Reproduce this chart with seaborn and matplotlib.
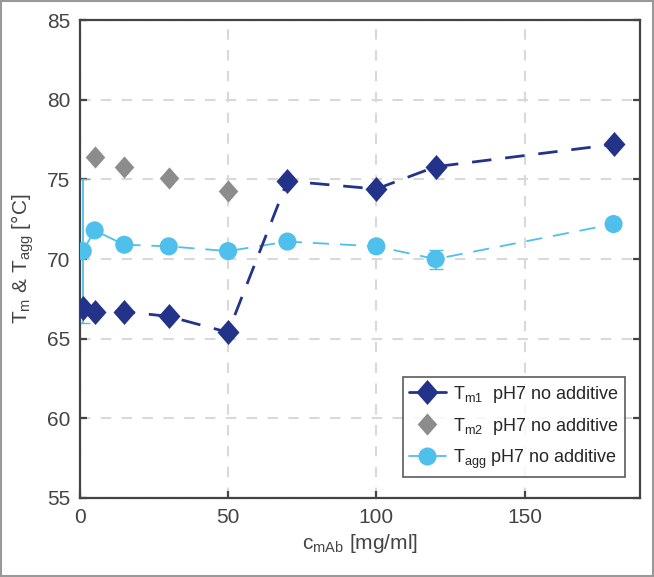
import matplotlib
matplotlib.use("Agg")
import matplotlib.pyplot as plt
from matplotlib.path import Path
from matplotlib.lines import Line2D
import seaborn as sns
import pandas as pd

# concentrations [mg/ml]
conc = [1, 5, 15, 30, 50, 70, 100, 120, 180]
tm1 = [66.9, 66.7, 66.7, 66.4, 65.4, 74.9, 74.4, 75.8, 77.2]

conc_tm2 = [5, 15, 30, 50]
tm2 = [76.4, 75.8, 75.1, 74.3]

tagg = [70.5, 71.8, 70.9, 70.8, 70.5, 71.1, 70.8, 70.0, 72.2]
tagg_err = [4.5, 0, 0, 0, 0, 0, 0, 0.6, 0]

navy = "#24338a"
grey = "#8c8c8c"
sky = "#4fc0ec"

# slightly tall diamond, like the matlab one
diamond = Path([(0, 1), (0.88, 0), (0, -1), (-0.88, 0), (0, 1)],
               [Path.MOVETO, Path.LINETO, Path.LINETO, Path.LINETO,
                Path.CLOSEPOLY])

sns.set_style("white")
plt.rcParams["font.family"] = ["Liberation Sans", "DejaVu Sans"]
plt.rcParams["mathtext.default"] = "regular"

df = pd.DataFrame({"conc": conc, "tm1": tm1, "tagg": tagg})

fig = plt.figure(figsize=(6.54, 5.77), dpi=100)
ax = fig.add_axes([0.122, 0.137, 0.857, 0.828])

sns.lineplot(data=df, x="conc", y="tm1", ax=ax, color=navy, lw=2,
             marker=diamond, markersize=18, markeredgewidth=0, zorder=3)
ax.lines[-1].set_dashes([7, 5])

sns.lineplot(x=conc_tm2, y=tm2, ax=ax, color=grey, lw=0, marker=diamond,
             markersize=16, markeredgewidth=0, zorder=3)

ax.errorbar(conc, tagg, yerr=tagg_err, color=sky, lw=1.3, capsize=5,
            fmt="none", zorder=2)
ax.plot(conc[:3], tagg[:3], color=sky, lw=1.3, zorder=2)
sns.lineplot(data=df.iloc[2:], x="conc", y="tagg", ax=ax, color=sky, lw=1.3,
             zorder=2)
ax.lines[-1].set_dashes([9, 6])
sns.scatterplot(data=df, x="conc", y="tagg", ax=ax, color=sky, s=170,
                edgecolor="none", zorder=3)

ax.set_xlim(0, 189)
ax.set_ylim(55, 85)
ax.set_xticks([0, 50, 100, 150])
ax.set_yticks(range(55, 90, 5))
ax.grid(True, color="#d9d9d9", lw=1.5, ls=(0, (5, 5)))
ax.set_axisbelow(True)

for s in ax.spines.values():
    s.set_color("#444444")
    s.set_linewidth(1.6)
ax.tick_params(direction="in", length=5, width=1.6, color="#444444",
               labelsize=15, labelcolor="#444444", right=True, left=True,
               bottom=True, pad=7)

ax.set_xlabel("c$_{mAb}$ [mg/ml]", fontsize=15, color="#444444", labelpad=4)
ax.set_ylabel("T$_m$ & T$_{agg}$ [°C]", fontsize=15, color="#444444",
              labelpad=8)

handles = [
    Line2D([], [], color=navy, lw=2, marker=diamond, ms=18, mew=0),
    Line2D([], [], color=grey, lw=0, marker=diamond, ms=16, mew=0),
    Line2D([], [], color=sky, lw=1.3, marker="o", ms=13, mew=0),
]
labels = ["T$_{m1}$  pH7 no additive", "T$_{m2}$  pH7 no additive",
          "T$_{agg}$ pH7 no additive"]
leg = ax.legend(handles, labels, loc="lower right", fontsize=13,
                frameon=True, fancybox=False, edgecolor="#333333",
                handlelength=2.0, handletextpad=0.4, borderpad=0.35,
                labelspacing=0.6, bbox_to_anchor=(0.988, 0.025))
leg.get_frame().set_linewidth(1.2)

fig.patches.append(plt.Rectangle((0.002, 0.002), 0.996, 0.996,
                                 transform=fig.transFigure, fill=False,
                                 edgecolor="#999999", lw=1.5))

fig.savefig("out.png", dpi=100)
